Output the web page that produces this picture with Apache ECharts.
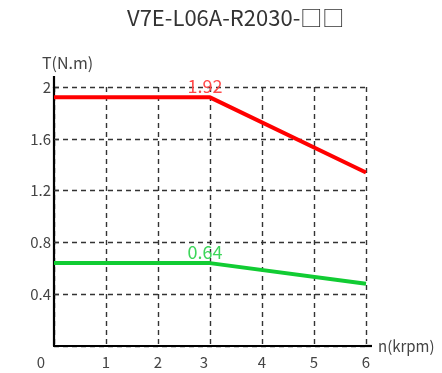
<!DOCTYPE html>
<html>
<head>
<meta charset="utf-8">
<script src="https://cdn.jsdelivr.net/npm/echarts@6/dist/echarts.min.js"></script>
<style>
  html, body { margin: 0; padding: 0; background: #fff; }
  #chart { width: 442px; height: 373px; }
</style>
</head>
<body>
<div id="chart"></div>
<script>
// Torque–speed curve of the servo motor
const titleText = 'V7E-L06A-R2030-□□';
const speedKrpm = [0, 3, 6];
const peakTorque = [1.92, 1.92, 1.34];
const ratedTorque = [0.64, 0.64, 0.48];
const xTicks = [0, 1, 2, 3, 4, 5, 6];
const yTicks = [0.4, 0.8, 1.2, 1.6, 2];
const labelledPoint = 1; // the corner speed where the torque starts to drop

const FONT = '"Noto Sans CJK JP", "Noto Sans", sans-serif';
const gridLine = { show: true, lineStyle: { color: '#333', width: 1.4, type: [5, 4] } };

const chart = echarts.init(document.getElementById('chart'), null, { renderer: 'canvas' });

function curveData(values, labelColor) {
  return speedKrpm.map((s, i) => {
    const item = { value: [s, values[i]] };
    if (i === labelledPoint) {
      item.label = {
        show: true,
        position: 'top',
        distance: 2,
        offset: [-5, 0],
        color: labelColor,
        fontSize: 18,
        fontFamily: FONT,
        formatter: p => p.value[1].toFixed(2)
      };
    }
    return item;
  });
}

chart.setOption({
  animation: false,
  textStyle: { fontFamily: FONT },
  title: {
    text: titleText,
    left: 122,
    top: 2,
    textStyle: { fontSize: 22, fontWeight: 'normal', color: '#333', fontFamily: FONT }
  },
  grid: { left: 54, right: 76, top: 87, bottom: 27, containLabel: false },
  xAxis: {
    type: 'value',
    min: xTicks[0],
    max: xTicks[xTicks.length - 1],
    interval: 1,
    name: 'n(krpm)',
    nameLocation: 'end',
    nameGap: 12,
    nameTextStyle: { fontSize: 15, color: '#444', fontFamily: FONT, verticalAlign: 'middle' },
    axisLine: { show: true, lineStyle: { color: '#000', width: 2.2 } },
    axisTick: { show: false },
    axisLabel: {
      margin: 9,
      fontSize: 15,
      color: '#444',
      fontFamily: FONT,
      formatter: v => (v === 0 ? '{z|0}' : v === 3 ? '{t|3}' : String(v)),
      rich: {
        z: { fontSize: 15, color: '#444', fontFamily: FONT, padding: [0, 26, 0, 0] },
        t: { fontSize: 15, color: '#444', fontFamily: FONT, padding: [0, 12, 0, 0] }
      }
    },
    splitLine: gridLine
  },
  yAxis: {
    type: 'value',
    min: 0,
    max: yTicks[yTicks.length - 1],
    interval: 0.4,
    name: 'T(N.m)',
    nameLocation: 'end',
    nameGap: 16,
    nameTextStyle: { fontSize: 16, color: '#444', fontFamily: FONT, align: 'left', padding: [0, 0, 0, -12] },
    axisLine: { show: true, lineStyle: { color: '#000', width: 2.2 } },
    axisTick: { show: true, inside: true, length: 5, lineStyle: { color: '#333', width: 1.4 } },
    axisLabel: {
      margin: 3,
      fontSize: 15,
      color: '#444',
      fontFamily: FONT,
      showMinLabel: false,
      formatter: v => (v === 0 ? '' : String(+v.toFixed(1)))
    },
    splitLine: gridLine
  },
  series: [
    {
      name: 'peak',
      type: 'line',
      data: curveData(peakTorque, '#ff4a4a'),
      symbol: 'circle',
      symbolSize: 0.1,
      itemStyle: { color: '#ff0000' },
      lineStyle: { color: '#ff0000', width: 4 },
      z: 5
    },
    {
      name: 'rated',
      type: 'line',
      data: curveData(ratedTorque, '#3dd65a'),
      symbol: 'circle',
      symbolSize: 0.1,
      itemStyle: { color: '#11cc33' },
      lineStyle: { color: '#11cc33', width: 4 },
      z: 5
    }
  ]
});

// Extend the axis lines slightly past the plot area, as on the original drawing
const origin = chart.convertToPixel({ gridIndex: 0 }, [xTicks[0], 0]);
const topLeft = chart.convertToPixel({ gridIndex: 0 }, [xTicks[0], yTicks[yTicks.length - 1]]);
const right = chart.convertToPixel({ gridIndex: 0 }, [xTicks[xTicks.length - 1], 0]);
chart.setOption({
  graphic: [
    {
      type: 'line',
      shape: { x1: topLeft[0], y1: topLeft[1] - 11, x2: topLeft[0], y2: topLeft[1] + 1 },
      style: { stroke: '#000', lineWidth: 2.2 },
      z: 10
    },
    {
      type: 'line',
      shape: { x1: right[0] - 1, y1: origin[1], x2: right[0] + 6, y2: origin[1] },
      style: { stroke: '#000', lineWidth: 2.2 },
      z: 10
    }
  ]
});
</script>
</body>
</html>
